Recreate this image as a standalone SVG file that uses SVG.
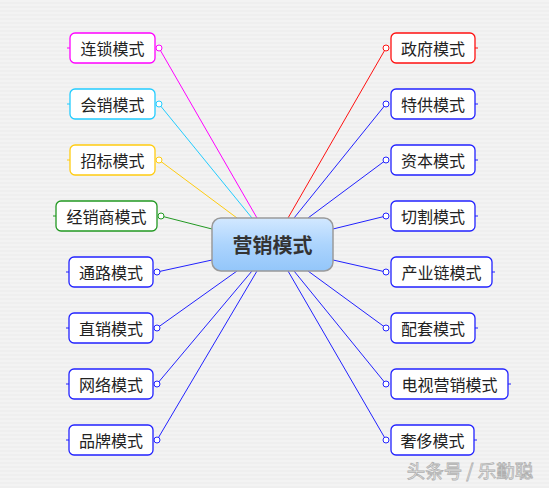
<svg xmlns="http://www.w3.org/2000/svg" width="549" height="488" viewBox="0 0 549 488">
<defs>
<pattern id="bg" width="4" height="4" patternUnits="userSpaceOnUse"><rect width="4" height="2" fill="#f3f3f3"/><rect y="2" width="4" height="2" fill="#efefef"/></pattern>
<linearGradient id="cg" x1="0" y1="0" x2="0" y2="1"><stop offset="0" stop-color="#d2e8ff"/><stop offset="0.5" stop-color="#acd4fd"/><stop offset="1" stop-color="#93c6fa"/></linearGradient>
<style>
.box{fill:#ffffff;stroke-width:1.3}
.t{font-family:"Noto Sans CJK SC","Noto Sans",sans-serif;font-size:16px;fill:#222;text-anchor:middle;dominant-baseline:central}
.c{fill:#ffffff;stroke-width:1}
.ln{fill:none;stroke-width:1}
.m{stroke:#ff00ff}.cy{stroke:#22ccff}.y{stroke:#ffcc11}.g{stroke:#229922}.r{stroke:#ff1111}.b{stroke:#2222ff}
</style>
</defs>
<rect width="549" height="488" fill="url(#bg)"/>
<g id="connectors">
<line class="ln m" x1="257" y1="218" x2="159" y2="48"/>
<line class="ln cy" x1="252" y1="218" x2="159" y2="104"/>
<line class="ln y" x1="237" y1="218" x2="159" y2="160"/>
<line class="ln g" x1="212" y1="229" x2="161" y2="216"/>
<line class="ln b" x1="212" y1="260" x2="157" y2="272"/>
<line class="ln b" x1="237" y1="271" x2="157" y2="328"/>
<line class="ln b" x1="252" y1="271" x2="157" y2="384"/>
<line class="ln b" x1="257" y1="271" x2="157" y2="440"/>
<line class="ln r" x1="288" y1="218" x2="386" y2="48"/>
<line class="ln b" x1="294" y1="218" x2="386" y2="104"/>
<line class="ln b" x1="308" y1="218" x2="386" y2="160"/>
<line class="ln b" x1="333" y1="229" x2="386" y2="216"/>
<line class="ln b" x1="333" y1="260" x2="386" y2="272"/>
<line class="ln b" x1="308" y1="271" x2="386" y2="328"/>
<line class="ln b" x1="294" y1="271" x2="386" y2="384"/>
<line class="ln b" x1="288" y1="271" x2="386" y2="440"/>
</g>
<g id="center">
<rect x="212" y="218" width="121" height="53" rx="9" fill="url(#cg)" stroke="#9a9a9a" stroke-width="1.5"/>
<text x="272.5" y="244.5" class="t" style="font-size:20px;font-weight:bold;fill:#333">营销模式</text>
</g>
<g id="n-liansuo"><line class="ln m" x1="67" y1="48" x2="70" y2="48"/><rect class="box m" x="70" y="33" width="85" height="30" rx="5"/><circle class="c m" cx="159" cy="48" r="3"/><text class="t" x="112.5" y="48">连锁模式</text></g>
<g id="n-huixiao"><line class="ln cy" x1="67" y1="104" x2="70" y2="104"/><rect class="box cy" x="70" y="89" width="85" height="30" rx="5"/><circle class="c cy" cx="159" cy="104" r="3"/><text class="t" x="112.5" y="104">会销模式</text></g>
<g id="n-zhaobiao"><line class="ln y" x1="67" y1="160" x2="70" y2="160"/><rect class="box y" x="70" y="145" width="85" height="30" rx="5"/><circle class="c y" cx="159" cy="160" r="3"/><text class="t" x="112.5" y="160">招标模式</text></g>
<g id="n-jingxiaoshang"><line class="ln g" x1="53" y1="216" x2="56" y2="216"/><rect class="box g" x="56" y="201" width="101" height="30" rx="5"/><circle class="c g" cx="161" cy="216" r="3"/><text class="t" x="106.5" y="216">经销商模式</text></g>
<g id="n-tonglu"><line class="ln b" x1="66" y1="272" x2="69" y2="272"/><rect class="box b" x="69" y="257" width="84" height="30" rx="5"/><circle class="c b" cx="157" cy="272" r="3"/><text class="t" x="111" y="272">通路模式</text></g>
<g id="n-zhixiao"><line class="ln b" x1="66" y1="328" x2="69" y2="328"/><rect class="box b" x="69" y="313" width="84" height="30" rx="5"/><circle class="c b" cx="157" cy="328" r="3"/><text class="t" x="111" y="328">直销模式</text></g>
<g id="n-wangluo"><line class="ln b" x1="66" y1="384" x2="69" y2="384"/><rect class="box b" x="69" y="369" width="84" height="30" rx="5"/><circle class="c b" cx="157" cy="384" r="3"/><text class="t" x="111" y="384">网络模式</text></g>
<g id="n-pinpai"><line class="ln b" x1="66" y1="440" x2="69" y2="440"/><rect class="box b" x="69" y="425" width="84" height="30" rx="5"/><circle class="c b" cx="157" cy="440" r="3"/><text class="t" x="111" y="440">品牌模式</text></g>
<g id="n-zhengfu"><line class="ln r" x1="475" y1="48" x2="478" y2="48"/><rect class="box r" x="391" y="33" width="84" height="30" rx="5"/><circle class="c r" cx="386" cy="48" r="3"/><text class="t" x="433" y="48">政府模式</text></g>
<g id="n-tegong"><line class="ln b" x1="475" y1="104" x2="478" y2="104"/><rect class="box b" x="391" y="89" width="84" height="30" rx="5"/><circle class="c b" cx="386" cy="104" r="3"/><text class="t" x="433" y="104">特供模式</text></g>
<g id="n-ziben"><line class="ln b" x1="475" y1="160" x2="478" y2="160"/><rect class="box b" x="391" y="145" width="84" height="30" rx="5"/><circle class="c b" cx="386" cy="160" r="3"/><text class="t" x="433" y="160">资本模式</text></g>
<g id="n-qiege"><line class="ln b" x1="475" y1="216" x2="478" y2="216"/><rect class="box b" x="391" y="201" width="84" height="30" rx="5"/><circle class="c b" cx="386" cy="216" r="3"/><text class="t" x="433" y="216">切割模式</text></g>
<g id="n-chanyelian"><line class="ln b" x1="492" y1="272" x2="495" y2="272"/><rect class="box b" x="391" y="257" width="101" height="30" rx="5"/><circle class="c b" cx="386" cy="272" r="3"/><text class="t" x="441.5" y="272">产业链模式</text></g>
<g id="n-peitao"><line class="ln b" x1="475" y1="328" x2="478" y2="328"/><rect class="box b" x="391" y="313" width="84" height="30" rx="5"/><circle class="c b" cx="386" cy="328" r="3"/><text class="t" x="433" y="328">配套模式</text></g>
<g id="n-dianshi"><line class="ln b" x1="508" y1="384" x2="511" y2="384"/><rect class="box b" x="391" y="369" width="117" height="30" rx="5"/><circle class="c b" cx="386" cy="384" r="3"/><text class="t" x="449.5" y="384">电视营销模式</text></g>
<g id="n-shechi"><line class="ln b" x1="474" y1="440" x2="477" y2="440"/><rect class="box b" x="391" y="425" width="83" height="30" rx="5"/><circle class="c b" cx="386" cy="440" r="3"/><text class="t" x="432.5" y="440">奢侈模式</text></g>
<text x="470" y="470" style="font-family:'Noto Sans CJK SC',sans-serif;font-size:18.5px;fill:#fafafa;stroke:#b0b0b0;stroke-width:0.8;text-anchor:middle;dominant-baseline:central">头条号 / 乐勤聪</text>
</svg>
